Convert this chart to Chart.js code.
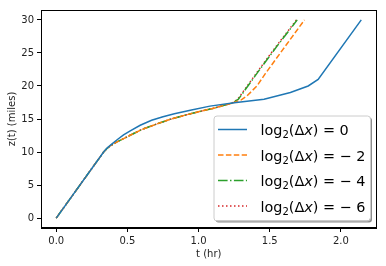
<!DOCTYPE html>
<html>
<head>
<meta charset="utf-8">
<script src="https://cdn.jsdelivr.net/npm/chart.js@4.4.1/dist/chart.umd.min.js"></script>
<style>
  body { margin: 0; background: #fff; }
</style>
</head>
<body>
<canvas id="myChart" width="386" height="266"></canvas>
<script>
// values: t in hours, z in miles
const tDx0 = [0, 0.333, 0.357, 0.39, 0.43, 0.473, 0.52, 0.59, 0.67, 0.75, 0.83, 0.95, 1.08, 1.25, 1.46, 1.645, 1.77, 1.84, 2.143];
const zDx0 = [0, 10, 10.6, 11.2, 11.9, 12.6, 13.2, 14.05, 14.8, 15.35, 15.8, 16.35, 16.95, 17.45, 18, 19, 20, 21, 30];

const tDx2 = [0, 0.333, 0.36, 0.38, 0.42, 0.47, 0.53, 0.6, 0.7, 0.8, 0.9, 1.0, 1.1, 1.235, 1.3, 1.34, 1.41, 1.47, 1.744];
const zDx2 = [0, 10, 10.6, 10.95, 11.45, 12.0, 12.65, 13.4, 14.2, 14.95, 15.55, 16.1, 16.6, 17.4, 17.9, 18.5, 20.0, 21.9, 30];

const tDx4 = [0, 0.333, 0.36, 0.38, 0.42, 0.47, 0.53, 0.6, 0.7, 0.8, 0.9, 1.0, 1.1, 1.235, 1.28, 1.34, 1.42, 1.55, 1.693];
const zDx4 = [0, 10, 10.6, 10.95, 11.45, 12.0, 12.65, 13.4, 14.2, 14.95, 15.55, 16.1, 16.6, 17.4, 18.0, 19.8, 22.2, 26.0, 30];

const tDx6 = [0, 0.333, 0.36, 0.38, 0.42, 0.47, 0.53, 0.6, 0.7, 0.8, 0.9, 1.0, 1.1, 1.235, 1.275, 1.335, 1.415, 1.545, 1.688];
const zDx6 = [0, 10, 10.6, 10.95, 11.45, 12.0, 12.65, 13.4, 14.2, 14.95, 15.55, 16.1, 16.6, 17.4, 18.0, 19.8, 22.2, 26.0, 30];

const dxExponents = ['0', '− 2', '− 4', '− 6'];
const xTicks = [0, 0.5, 1.0, 1.5, 2.0];
const yTicks = [0, 5, 10, 15, 20, 25, 30];

const pts = (ts, zs) => ts.map((t, i) => ({x: t, y: zs[i]}));

const FONT = "'DejaVu Sans', sans-serif";

// matplotlib-ish frame + legend with shadow
const mplDecor = {
    id: 'mplDecor',
    afterDraw(chart) {
        const ctx = chart.ctx;
        const a = chart.chartArea;
        ctx.save();
        ctx.strokeStyle = '#000';
        ctx.lineWidth = 1;
        ctx.strokeRect(Math.round(a.left) + 0.5, Math.round(a.top) + 0.5,
            Math.round(a.right - a.left) - 1, Math.round(a.bottom - a.top) - 1);

        // legend box
        const w = 156.5, h = 105;
        const bx = a.right - 6.5 - w, by = a.bottom - 7.5 - h;
        const rr = (x, y) => {
            ctx.beginPath();
            ctx.roundRect(x, y, w, h, 3);
        };
        ctx.fillStyle = 'rgba(0,0,0,0.45)';
        rr(bx + 2, by + 2);
        ctx.fill();
        ctx.fillStyle = '#fff';
        rr(bx, by);
        ctx.fill();
        ctx.strokeStyle = '#ccc';
        ctx.lineWidth = 1;
        rr(bx + 0.5, by + 0.5);
        ctx.stroke();

        chart.data.datasets.forEach((ds, i) => {
            const cy = by + 14 + i * 25.5;
            ctx.strokeStyle = ds.borderColor;
            ctx.lineWidth = 1.5;
            ctx.setLineDash(ds.borderDash || []);
            ctx.beginPath();
            ctx.moveTo(bx + 4.5, cy);
            ctx.lineTo(bx + 33.5, cy);
            ctx.stroke();
            ctx.setLineDash([]);

            ctx.fillStyle = '#000';
            ctx.textBaseline = 'alphabetic';
            let x = bx + 47;
            const base = cy + 5.5;
            const parts = [
                ['log', '14.4px ' + FONT, 0],
                ['2', '10px ' + FONT, 3],
                ['(Δ', '14.4px ' + FONT, 0],
                ['x', 'italic 14.4px ' + FONT, 0],
                [') = ' + dxExponents[i], '14.4px ' + FONT, 0]
            ];
            parts.forEach(([txt, f, dy]) => {
                ctx.font = f;
                ctx.fillText(txt, x, base + dy);
                x += ctx.measureText(txt).width;
            });
        });
        ctx.restore();
    }
};

new Chart(document.getElementById('myChart').getContext('2d'), {
    type: 'scatter',
    data: {
        datasets: [{
            label: 'log₂(Δx) = 0',
            data: pts(tDx0, zDx0),
            borderColor: '#1f77b4',
            borderWidth: 1.5
        }, {
            label: 'log₂(Δx) = −2',
            data: pts(tDx2, zDx2),
            borderColor: '#ff7f0e',
            borderWidth: 1.5,
            borderDash: [5.5, 2.4]
        }, {
            label: 'log₂(Δx) = −4',
            data: pts(tDx4, zDx4),
            borderColor: '#2ca02c',
            borderWidth: 1.5,
            borderDash: [9.6, 2.4, 1.5, 2.4]
        }, {
            label: 'log₂(Δx) = −6',
            data: pts(tDx6, zDx6),
            borderColor: '#d62728',
            borderWidth: 1.5,
            borderDash: [1.5, 2.5]
        }]
    },
    options: {
        responsive: false,
        animation: false,
        devicePixelRatio: 1,
        showLine: true,
        elements: { point: { radius: 0 }, line: { tension: 0 } },
        layout: { padding: { top: 10, right: 9.5, left: 0, bottom: 0 } },
        plugins: { legend: { display: false }, tooltip: { enabled: false } },
        scales: {
            x: {
                type: 'linear',
                min: -0.107,
                max: 2.25,
                afterFit(s) { s.height = 38; },
                afterBuildTicks(s) { s.ticks = xTicks.map(v => ({value: v})); },
                grid: { drawOnChartArea: false, drawTicks: true, tickLength: 4, color: '#000' },
                border: { display: true, color: '#000' },
                ticks: { padding: 3, color: '#222', font: { family: FONT, size: 10 },
                    callback: v => v.toFixed(1), maxRotation: 0 },
                title: { display: true, text: 't (hr)', color: '#222',
                    font: { family: FONT, size: 10 }, padding: { top: 6, bottom: 6 } }
            },
            y: {
                min: -1.5,
                max: 31.5,
                afterFit(s) { s.width = 41; },
                afterBuildTicks(s) { s.ticks = yTicks.map(v => ({value: v})); },
                grid: { drawOnChartArea: false, drawTicks: true, tickLength: 4, color: '#000' },
                border: { display: true, color: '#000' },
                ticks: { padding: 3, color: '#222', font: { family: FONT, size: 10 } },
                title: { display: true, text: 'z(t) (miles)', color: '#222',
                    font: { family: FONT, size: 10 }, padding: { top: 6, bottom: 4 } }
            }
        }
    },
    plugins: [mplDecor]
});
</script>
</body>
</html>
